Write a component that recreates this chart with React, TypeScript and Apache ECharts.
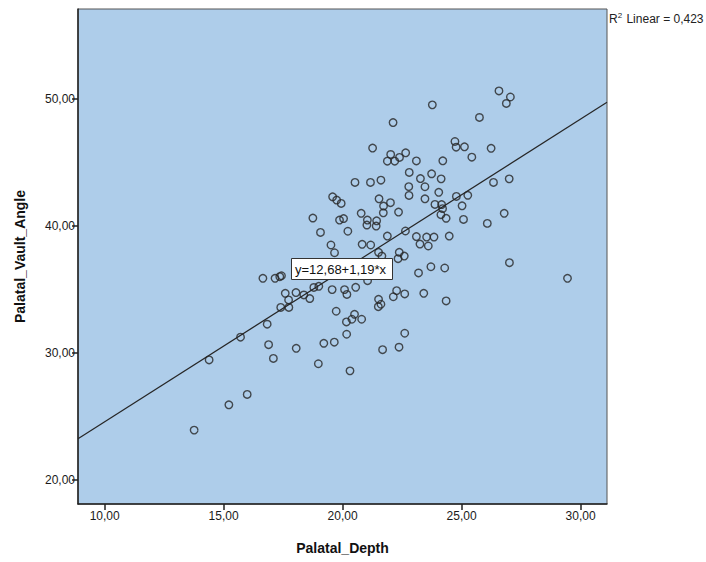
import React, { useEffect, useRef } from "react";
import * as echarts from "echarts";

// Palatal_Depth (x) and Palatal_Vault_Angle (y)
const palatalDepth: number[] = [
  13.76, 14.39, 15.22, 15.71, 15.99, 16.65, 17.16, 17.36, 17.43, 16.83,
  16.89, 17.09, 17.59, 17.73, 17.40, 17.74, 18.04, 18.05, 18.37, 18.62,
  18.79, 19.00, 18.98, 19.21, 19.65, 20.17, 20.31, 19.56, 20.08, 20.18,
  20.55, 21.05, 19.73, 20.16, 20.39, 20.50, 20.80, 21.51, 21.50, 21.61,
  22.13, 22.27, 22.61, 21.68, 22.37, 22.61, 23.41, 24.35, 29.45, 18.75,
  19.07, 19.51, 19.66, 19.58, 19.75, 19.94, 19.87, 20.04, 20.22, 20.78,
  21.04, 21.02, 21.43, 21.41, 20.82, 21.18, 21.51, 21.65, 21.88, 22.38,
  22.59, 22.33, 22.64, 23.10, 23.25, 23.53, 23.60, 23.84, 24.48, 23.19,
  23.71, 24.29, 27.01, 21.26, 22.02, 21.88, 22.19, 22.39, 22.65, 23.10,
  24.21, 22.12, 20.52, 21.17, 21.61, 22.80, 23.74, 23.27, 24.14, 23.46,
  22.78, 22.79, 23.46, 24.04, 21.53, 22.01, 21.72, 21.71, 22.35, 23.88,
  24.16, 24.20, 24.13, 24.35, 24.78, 25.26, 25.02, 25.08, 26.08, 26.79,
  26.34, 27.00, 24.72, 24.77, 25.12, 26.24, 25.43, 23.77, 25.75, 26.57,
  27.05, 26.88,
];
const palatalVaultAngle: number[] = [
  23.92, 29.44, 25.91, 31.23, 26.73, 35.86, 35.86, 35.99, 36.06, 32.25,
  30.64, 29.56, 34.68, 34.16, 33.57, 33.57, 34.74, 30.35, 34.55, 34.27,
  35.14, 35.23, 29.14, 30.75, 30.84, 31.46, 28.58, 34.97, 34.97, 34.59,
  35.15, 35.67, 33.27, 32.43, 32.64, 33.03, 32.64, 34.21, 33.63, 33.82,
  34.41, 34.89, 34.63, 30.25, 30.44, 31.54, 34.68, 34.08, 35.86, 40.60,
  39.47, 38.48, 37.87, 42.27, 42.01, 41.75, 40.44, 40.56, 39.56, 40.97,
  40.44, 40.05, 40.38, 39.97, 38.53, 38.48, 37.90, 37.61, 39.18, 37.90,
  37.61, 37.40, 39.58, 39.14, 38.55, 39.10, 38.40, 39.10, 39.18, 36.28,
  36.77, 36.67, 37.09, 46.10, 45.60, 45.07, 45.07, 45.37, 45.73, 45.09,
  45.10, 48.11, 43.40, 43.40, 43.58, 44.19, 44.08, 43.70, 43.68, 43.06,
  43.07, 42.38, 42.11, 42.62, 42.11, 41.81, 41.54, 41.01, 41.07, 41.67,
  41.66, 41.34, 40.86, 40.58, 42.30, 42.39, 41.56, 40.49, 40.18, 40.97,
  43.40, 43.68, 46.62, 46.17, 46.20, 46.08, 45.39, 49.50, 48.51, 50.60,
  50.12, 49.61,
];

const xTicks: number[] = [10, 15, 20, 25, 30];
const yTicks: number[] = [20, 30, 40, 50];
const xRange: number[] = [8.88, 31.11];
const yRange: number[] = [18.11, 57.04];

const fitIntercept = 12.68;
const fitSlope = 1.19;
const fitLabel = "y=12,68+1,19*x";
const rSquaredLabel = "0,423";

const fmt = (v: number) => v.toFixed(2).replace(".", ",");

export default function App() {
  const ref = useRef<HTMLDivElement>(null);

  useEffect(() => {
    if (!ref.current) return;
    const chart = echarts.init(ref.current, null, { renderer: "svg" });
    const points = palatalDepth.map((x, i) => [x, palatalVaultAngle[i]]);
    const fitLine = xRange.map((x) => [x, fitIntercept + fitSlope * x]);
    const font = "'Liberation Sans', Arial, sans-serif";

    chart.setOption({
      animation: false,
      backgroundColor: "#ffffff",
      grid: {
        left: 78,
        top: 9,
        right: 99,
        bottom: 58,
        show: true,
        backgroundColor: "#AECDEA",
        borderColor: "#555555",
        borderWidth: 1,
      },
      xAxis: {
        type: "value",
        min: xRange[0],
        max: xRange[1],
        name: "Palatal_Depth",
        nameLocation: "middle",
        nameGap: 37,
        nameTextStyle: { fontFamily: font, fontWeight: "bold", fontSize: 14, color: "#111" },
        axisLine: { show: true, onZero: false, lineStyle: { color: "#222", width: 1.5 } },
        axisTick: { show: true, length: 6, customValues: xTicks, lineStyle: { color: "#222", width: 1.5 } },
        axisLabel: {
          customValues: xTicks,
          formatter: (v: number) => fmt(v),
          fontFamily: font,
          fontSize: 12,
          color: "#1a1a1a",
          margin: 6,
        },
        splitLine: { show: false },
      },
      yAxis: {
        type: "value",
        min: yRange[0],
        max: yRange[1],
        name: "Palatal_Vault_Angle",
        nameLocation: "middle",
        nameGap: 51,
        nameRotate: 90,
        nameTextStyle: { fontFamily: font, fontWeight: "bold", fontSize: 14, color: "#111" },
        axisLine: { show: true, onZero: false, lineStyle: { color: "#222", width: 1.5 } },
        axisTick: { show: true, length: 6, customValues: yTicks, lineStyle: { color: "#222", width: 1.5 } },
        axisLabel: {
          customValues: yTicks,
          formatter: (v: number) => fmt(v),
          fontFamily: font,
          fontSize: 12,
          color: "#1a1a1a",
          margin: 3,
        },
        splitLine: { show: false },
      },
      series: [
        {
          type: "line",
          data: fitLine,
          symbol: "none",
          lineStyle: { color: "#262626", width: 1.2 },
          silent: true,
          z: 2,
        },
        {
          type: "scatter",
          data: points,
          symbol: "circle",
          symbolSize: 7.5,
          itemStyle: { color: "transparent", borderColor: "#262626", borderWidth: 1.4 },
          z: 3,
        },
      ],
      graphic: [
        {
          type: "rect",
          shape: { x: 291.5, y: 258.5, width: 101, height: 21 },
          style: { fill: "#ffffff", stroke: "#333333", lineWidth: 1 },
          z: 10,
        },
        {
          type: "text",
          x: 295,
          y: 269,
          style: {
            text: fitLabel,
            fontFamily: font,
            fontSize: 13,
            fill: "#111",
            verticalAlign: "middle",
            textAlign: "left",
          },
          z: 11,
        },
        {
          type: "text",
          x: 609,
          y: 18,
          style: {
            text: "{a|R}{s|2}{a| Linear = " + rSquaredLabel + "}",
            fontFamily: font,
            verticalAlign: "middle",
            textAlign: "left",
            rich: {
              a: { fontSize: 12, fontFamily: font, fill: "#222", verticalAlign: "bottom" },
              s: { fontSize: 8, fontFamily: font, fill: "#222", verticalAlign: "top", padding: [0, 1, 6, 0] },
            },
          },
          z: 11,
        },
      ],
    });

    return () => chart.dispose();
  }, []);

  return (
    <div
      ref={ref}
      style={{ position: "fixed", left: 0, top: 0, width: 706, height: 562 }}
    />
  );
}
